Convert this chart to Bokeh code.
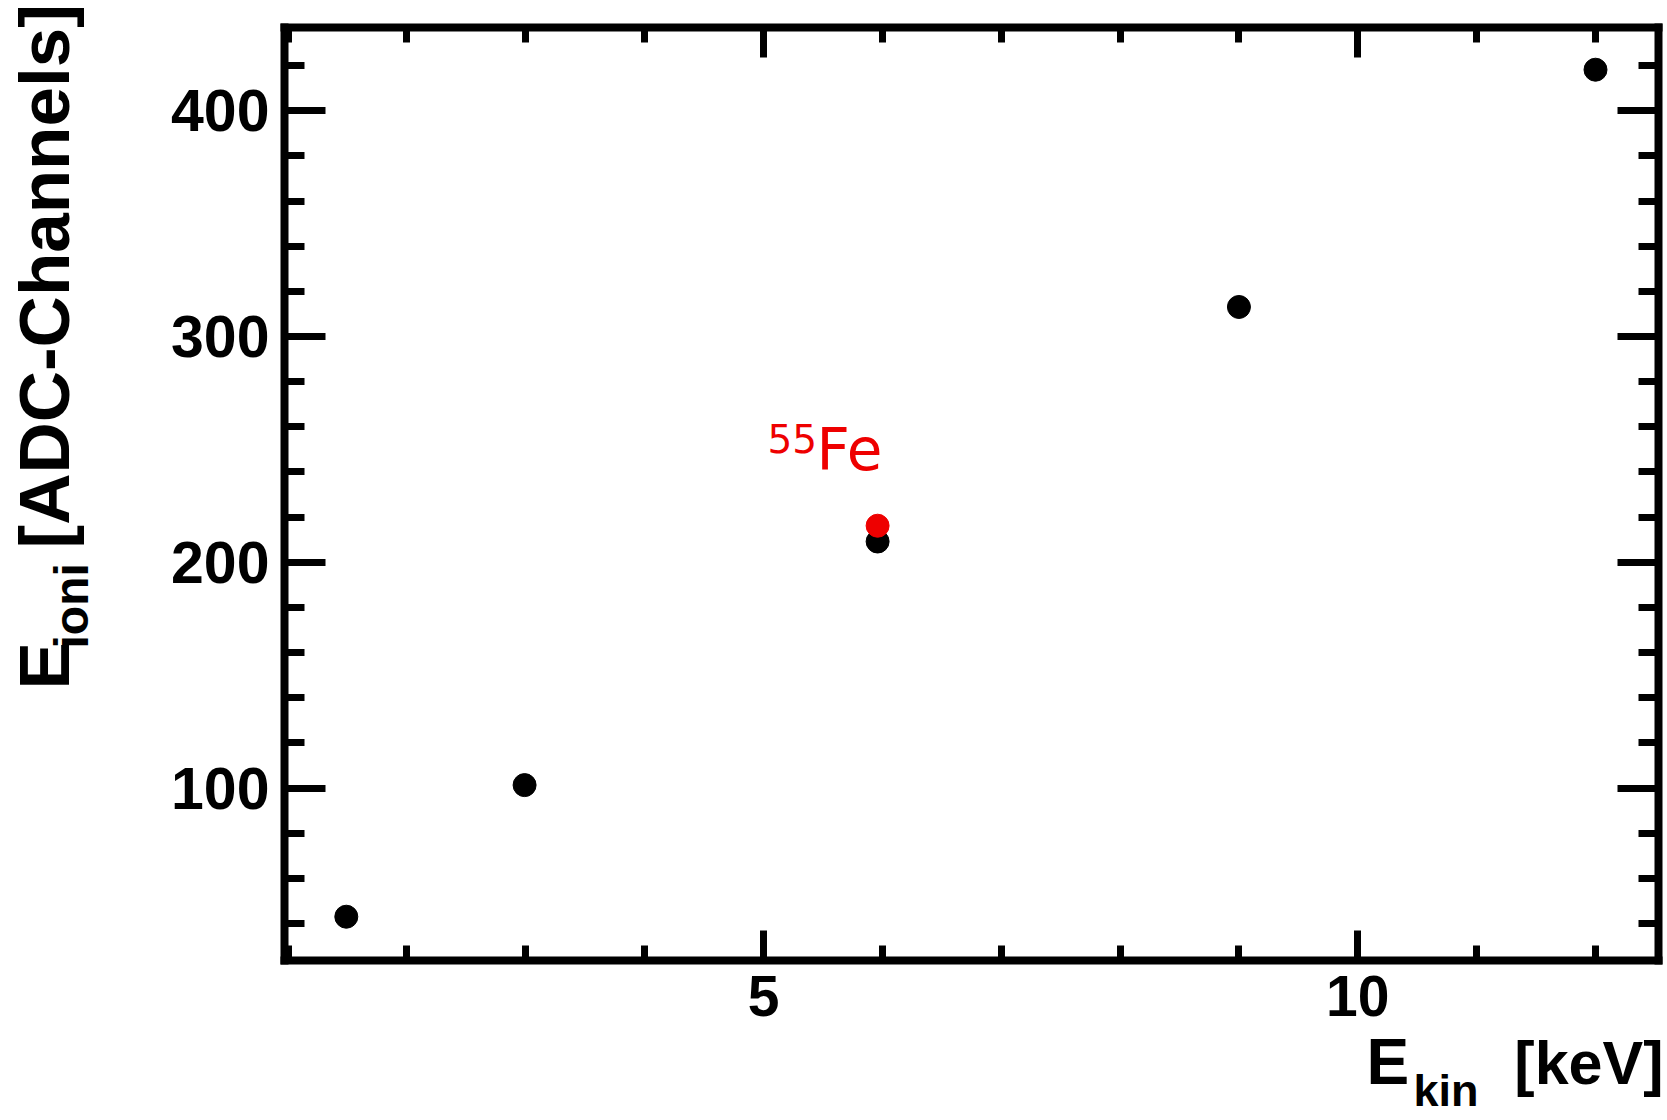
import math
from bokeh.plotting import figure
from bokeh.models import Range1d, LinearAxis, SingleIntervalTicker, Label
from bokeh.embed import file_html
from bokeh.resources import INLINE

# ---- data ----
e_kin_sim = [1.49, 2.99, 5.96, 9.0, 12.0]
e_ioni_sim = [43.0, 101.3, 209.2, 313.1, 418.2]
e_kin_fe = [5.96]
e_ioni_fe = [216.2]
fe_label_mass = "55"
fe_label_elem = "Fe"
x_ticks_major = 5
y_ticks_major = 100

# visible axis box (data units)
X0, X1 = 0.97, 12.53
Y0, Y1 = 23.6, 436.9

# layout: the frame is the whole canvas, the axis box sits at these pixels
W, H = 1667, 1120
FL, FR, FT, FB = 284, 1658, 27, 960
DX = (X1 - X0) / (FR - FL)
DY = (Y1 - Y0) / (FB - FT)
XS, XE = X0 - FL * DX, X1 + (W - FR) * DX
YS, YE = Y0 - (H - FB) * DY, Y1 + FT * DY

p = figure(width=W, height=H, output_backend="svg", toolbar_location=None,
           x_range=Range1d(XS, XE), y_range=Range1d(YS, YE),
           x_axis_location=None, y_axis_location=None,
           min_border=0, min_border_left=0, min_border_right=0,
           min_border_top=0, min_border_bottom=0)
p.xgrid.visible = False
p.ygrid.visible = False
p.outline_line_color = None
p.background_fill_color = "white"
p.border_fill_color = "white"


def px_x(px):
    return XS + px * DX


def px_y(py):
    return YE - py * DY


def make_axis(ticker, loc, bounds, show_labels, tick_in, minor_in, font_size, standoff):
    ax = LinearAxis(ticker=ticker, fixed_location=loc, bounds=bounds)
    ax.axis_line_width = 8
    ax.axis_line_color = "black"
    ax.axis_line_cap = "square"
    ax.major_tick_in = tick_in
    ax.major_tick_out = 0
    ax.minor_tick_in = minor_in
    ax.minor_tick_out = 0
    ax.major_tick_line_width = 7
    ax.minor_tick_line_width = 7
    ax.major_tick_line_color = "black"
    ax.minor_tick_line_color = "black"
    ax.major_label_text_font = "Liberation Sans"
    ax.major_label_text_font_style = "bold"
    ax.major_label_text_font_size = f"{font_size}px"
    ax.major_label_standoff = standoff
    ax.major_label_text_color = "black" if show_labels else None
    return ax


xt = SingleIntervalTicker(interval=x_ticks_major, num_minor_ticks=5)
yt = SingleIntervalTicker(interval=y_ticks_major, num_minor_ticks=5)

p.add_layout(make_axis(xt, Y0, (X0, X1), True, 30, 15, 57, 15), "below")
p.add_layout(make_axis(xt, Y1, (X0, X1), False, 30, 15, 20, 0), "above")
p.add_layout(make_axis(yt, X0, (Y0, Y1), True, 41, 20, 59, 15), "left")
p.add_layout(make_axis(yt, X1, (Y0, Y1), False, 41, 20, 20, 0), "right")

p.scatter(e_kin_sim, e_ioni_sim, size=23, color="black", marker="circle")
p.scatter(e_kin_fe, e_ioni_fe, size=23, color="#ee0000", marker="circle")

SHIFT = 0.35  # baseline correction, in em


def add_label(text, px, py, size, color="black", font="Liberation Sans",
              style="bold", rotated=False, align="left"):
    if rotated:
        ax_, ay_ = px - SHIFT * size, py
        ang = math.pi / 2
    else:
        ax_, ay_ = px, py - SHIFT * size
        ang = 0.0
    p.add_layout(Label(x=px_x(ax_), y=px_y(ay_), text=text, angle=ang,
                       text_font=font, text_font_style=style,
                       text_font_size=f"{size}px", text_color=color,
                       text_align=align, text_baseline="alphabetic"))


# 55Fe annotation
add_label(fe_label_mass, 767, 452, 39, color="#ee0000", font="DejaVu Sans", style="normal")
add_label(fe_label_elem, 816, 470, 58, color="#ee0000", font="DejaVu Sans", style="normal")

# x-axis title E_kin [keV]
add_label("E", 1366, 1084, 64)
add_label("kin", 1413, 1106, 45)
add_label("[keV]", 1663, 1084, 61, align="right")

# y-axis title E_ioni [ADC-Channels]
add_label("E", 69, 689, 71, rotated=True)
add_label("ioni", 88, 648, 48, rotated=True)
add_label("[ADC-Channels]", 69, 548, 71, rotated=True)

open("out.html", "w").write(file_html(p, INLINE))
